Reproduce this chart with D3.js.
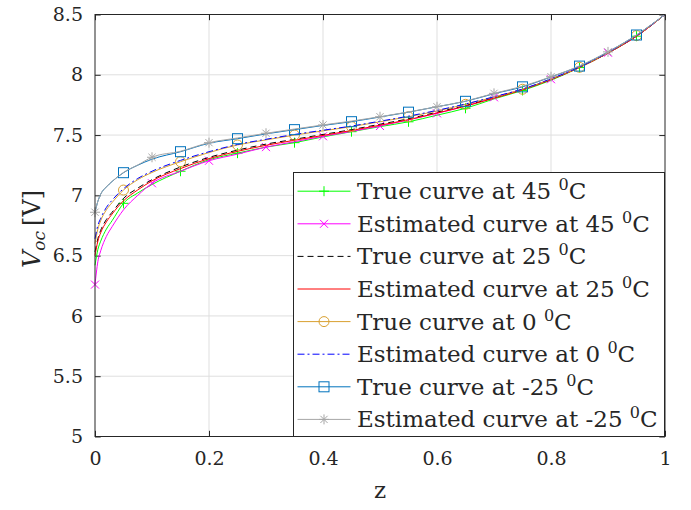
<!DOCTYPE html>
<html><head><meta charset="utf-8">
<script src="https://cdn.jsdelivr.net/npm/d3@7"></script>
<style>body{margin:0;background:#fff}svg{display:block}text{font-family:"DejaVu Serif",serif;fill:#262626}</style>
</head><body>
<svg id="c" width="691" height="510"></svg>
<script>
const zGrid = [0, 0.005, 0.01, 0.02, 0.03, 0.05, 0.075, 0.1, 0.15, 0.2, 0.25, 0.3, 0.35, 0.4, 0.45, 0.5, 0.55, 0.6, 0.65, 0.7, 0.75, 0.8, 0.85, 0.9, 0.95, 1.0];
const true45 = [6.42, 6.55, 6.62, 6.72, 6.79, 6.934, 7.02, 7.09, 7.20, 7.295, 7.35, 7.40, 7.437, 7.485, 7.528, 7.57, 7.61, 7.665, 7.722, 7.80, 7.87, 7.955, 8.06, 8.18, 8.32, 8.5];
const est45  = [6.26, 6.45, 6.54, 6.66, 6.74, 6.88, 7.00, 7.10, 7.20, 7.287, 7.342, 7.40, 7.445, 7.49, 7.53, 7.575, 7.625, 7.68, 7.74, 7.813, 7.88, 7.963, 8.065, 8.183, 8.32, 8.5];
const true25 = [6.53, 6.64, 6.71, 6.80, 6.86, 6.975, 7.06, 7.13, 7.235, 7.315, 7.375, 7.425, 7.465, 7.505, 7.545, 7.59, 7.635, 7.69, 7.745, 7.81, 7.878, 7.962, 8.062, 8.182, 8.322, 8.5];
const est25  = [6.50, 6.62, 6.69, 6.78, 6.845, 6.955, 7.045, 7.12, 7.222, 7.305, 7.365, 7.415, 7.457, 7.497, 7.538, 7.582, 7.628, 7.683, 7.74, 7.806, 7.875, 7.96, 8.06, 8.18, 8.32, 8.5];
const true0  = [6.60, 6.72, 6.79, 6.88, 6.94, 7.044, 7.13, 7.19, 7.279, 7.355, 7.418, 7.46, 7.50, 7.535, 7.57, 7.61, 7.652, 7.70, 7.755, 7.815, 7.88, 7.965, 8.062, 8.185, 8.325, 8.5];
const est0   = [6.64, 6.75, 6.81, 6.90, 6.96, 7.055, 7.14, 7.20, 7.29, 7.362, 7.422, 7.465, 7.505, 7.54, 7.575, 7.615, 7.657, 7.705, 7.758, 7.818, 7.882, 7.967, 8.064, 8.186, 8.326, 8.5];
const trueM25 = [6.86, 6.95, 7.01, 7.07, 7.115, 7.188, 7.25, 7.30, 7.362, 7.432, 7.47, 7.51, 7.545, 7.58, 7.611, 7.65, 7.69, 7.735, 7.78, 7.843, 7.90, 7.982, 8.072, 8.19, 8.33, 8.5];
const estM25  = [6.86, 6.95, 7.01, 7.07, 7.116, 7.19, 7.252, 7.316, 7.366, 7.437, 7.476, 7.515, 7.55, 7.584, 7.616, 7.652, 7.692, 7.735, 7.782, 7.846, 7.905, 7.984, 8.074, 8.19, 8.33, 8.5];
const trueMarkerZ = [0.05, 0.15, 0.25, 0.35, 0.45, 0.55, 0.65, 0.75, 0.85, 0.95];
const estMarkerZ  = [0, 0.1, 0.2, 0.3, 0.4, 0.5, 0.6, 0.7, 0.8, 0.9];
const xTicks = [0, 0.2, 0.4, 0.6, 0.8, 1];
const yTicks = [5, 5.5, 6, 6.5, 7, 7.5, 8, 8.5];
const seriesNames = ["True curve at 45", "Estimated curve at 45", "True curve at 25", "Estimated curve at 25", "True curve at 0", "Estimated curve at 0", "True curve at -25", "Estimated curve at -25"];

const seriesData = [true45, est45, true25, est25, true0, est0, trueM25, estM25];
const styles = [
  {color:"#00FF00", dash:null, marker:"plus", mz:trueMarkerZ},
  {color:"#FF00FF", dash:null, marker:"cross", mz:estMarkerZ},
  {color:"#000000", dash:"6,4", marker:null, mz:[]},
  {color:"#FF0000", dash:null, marker:null, mz:[]},
  {color:"#D9A030", dash:null, marker:"circle", mz:trueMarkerZ},
  {color:"#0000FF", dash:"7,3,2,3", marker:null, mz:[]},
  {color:"#0072BD", dash:null, marker:"square", mz:trueMarkerZ},
  {color:"#A6A6A6", dash:null, marker:"star", mz:estMarkerZ}
];

const svg = d3.select("#c");
const L=95, R=665, T=14.5, B=436.5;
const x = d3.scaleLinear().domain([0,1]).range([L,R]);
const y = d3.scaleLinear().domain([5,8.5]).range([B,T]);

// grid
const g = svg.append("g");
g.selectAll(".gx").data(xTicks.slice(1,-1)).enter().append("line")
  .attr("x1",d=>x(d)).attr("x2",d=>x(d)).attr("y1",T).attr("y2",B)
  .attr("stroke","#DFDFDF").attr("stroke-width",1);
g.selectAll(".gy").data(yTicks.slice(1,-1)).enter().append("line")
  .attr("y1",d=>y(d)).attr("y2",d=>y(d)).attr("x1",L).attr("x2",R)
  .attr("stroke","#DFDFDF").attr("stroke-width",1);

// axes with inward ticks
const tk = 5.7;
const axB = d3.axisBottom(x).tickValues(xTicks).tickSize(-tk).tickPadding(15).tickFormat(d=>d3.format("")(d));
const axT = d3.axisTop(x).tickValues(xTicks).tickSize(-tk).tickFormat("");
const axL = d3.axisLeft(y).tickValues(yTicks).tickSize(-tk).tickPadding(12).tickFormat(d=>d3.format("")(d));
const axR = d3.axisRight(y).tickValues(yTicks).tickSize(-tk).tickFormat("");
function styleAx(sel){
  sel.select(".domain").remove();
  sel.selectAll("line").attr("stroke","#262626");
  sel.selectAll("text").attr("font-family","DejaVu Serif").attr("font-size",19).attr("fill","#262626");
}
svg.append("g").attr("transform",`translate(0,${B})`).call(axB).call(styleAx);
svg.append("g").attr("transform",`translate(0,${T})`).call(axT).call(styleAx);
svg.append("g").attr("transform",`translate(${L},0)`).call(axL).call(styleAx);
svg.append("g").attr("transform",`translate(${R},0)`).call(axR).call(styleAx);

// markers
function drawMarker(sel, type, cx, cy, color){
  const s=5;
  if(type==="plus"){
    sel.append("path").attr("d",`M${cx-s},${cy}H${cx+s}M${cx},${cy-s}V${cy+s}`).attr("stroke",color).attr("fill","none");
  } else if(type==="cross"){
    const k=4;
    sel.append("path").attr("d",`M${cx-k},${cy-k}L${cx+k},${cy+k}M${cx-k},${cy+k}L${cx+k},${cy-k}`).attr("stroke",color).attr("fill","none");
  } else if(type==="circle"){
    sel.append("circle").attr("cx",cx).attr("cy",cy).attr("r",5).attr("stroke",color).attr("fill","none");
  } else if(type==="square"){
    sel.append("rect").attr("x",cx-5).attr("y",cy-5).attr("width",10).attr("height",10).attr("stroke",color).attr("fill","none");
  } else if(type==="star"){
    const k=5, d=3.6;
    sel.append("path").attr("d",`M${cx-k},${cy}H${cx+k}M${cx},${cy-k}V${cy+k}M${cx-d},${cy-d}L${cx+d},${cy+d}M${cx-d},${cy+d}L${cx+d},${cy-d}`).attr("stroke",color).attr("fill","none");
  }
}

const line = d3.line().x(d=>x(d[0])).y(d=>y(d[1])).curve(d3.curveMonotoneX);
const plot = svg.append("g");
seriesData.forEach((vals,i)=>{
  const st = styles[i];
  const pts = zGrid.map((z,j)=>[z,vals[j]]);
  plot.append("path").datum(pts).attr("d",line).attr("fill","none")
    .attr("stroke",st.color).attr("stroke-width",1)
    .attr("stroke-dasharray",st.dash);
  if(st.marker){
    const mg = plot.append("g").attr("stroke-width",1);
    st.mz.forEach(z=>{
      const j = zGrid.findIndex(v=>Math.abs(v-z)<1e-9);
      drawMarker(mg, st.marker, x(z), y(vals[j]), st.color);
    });
  }
});

// box
svg.append("rect").attr("x",L).attr("y",T).attr("width",R-L).attr("height",B-T)
  .attr("fill","none").attr("stroke","#262626").attr("stroke-width",1);

// legend
const lg = svg.append("g");
const LX0=293.5, LY0=172.5, LX1=664.5, LY1=436.5;
lg.append("rect").attr("x",LX0).attr("y",LY0).attr("width",LX1-LX0).attr("height",LY1-LY0)
  .attr("fill","#fff").attr("stroke","#262626").attr("stroke-width",1);
seriesNames.forEach((name,i)=>{
  const st = styles[i];
  const cy = 191.2 + i*32.6;
  lg.append("line").attr("x1",297.5).attr("x2",350.5).attr("y1",cy).attr("y2",cy)
    .attr("stroke",st.color).attr("stroke-width",1).attr("stroke-dasharray",st.dash);
  if(st.marker){ const mg=lg.append("g").attr("stroke-width",1); drawMarker(mg, st.marker, 324, cy, st.color); }
  const t = lg.append("text").attr("x",357).attr("y",cy+8).attr("font-size",23);
  t.append("tspan").text(name+" ");
  t.append("tspan").attr("dy",-9).attr("font-size",16).text("0");
  t.append("tspan").attr("dy",9).text("C");
});

// axis labels
svg.append("text").attr("x",380).attr("y",498).attr("text-anchor","middle").attr("font-size",23).text("z");
const yl = svg.append("text").attr("transform","translate(40,229) rotate(-90)").attr("text-anchor","middle").attr("font-size",24);
yl.append("tspan").attr("font-style","italic").text("V");
yl.append("tspan").attr("font-style","italic").attr("font-size",17).attr("dy",5).text("oc");
yl.append("tspan").attr("dy",-5).attr("dx",5).text("[V]");
</script>
</body></html>
